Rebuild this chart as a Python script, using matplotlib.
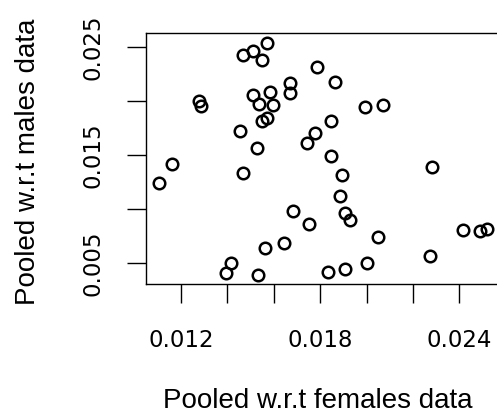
import matplotlib
matplotlib.use("Agg")
import matplotlib.pyplot as plt
import numpy as np

# Pooled estimates: females (x) against males (y)
female_vals = [0.01105, 0.01161, 0.01278, 0.01286, 0.01467, 0.01510, 0.01571, 0.01549,
               0.01510, 0.01584, 0.01536, 0.01597, 0.01549, 0.01571, 0.01454, 0.01528,
               0.01670, 0.01670, 0.01786, 0.01864, 0.01993, 0.02071, 0.01847, 0.01778,
               0.01743, 0.01847, 0.01467, 0.01894, 0.01885, 0.01907, 0.01928, 0.01683,
               0.01752, 0.02049, 0.02002, 0.01907, 0.01834, 0.01532, 0.01394, 0.01416,
               0.01562, 0.01644, 0.02282, 0.02273, 0.02416, 0.02489, 0.02519]
male_vals = [0.01244, 0.01419, 0.02003, 0.01956, 0.02429, 0.02466, 0.02540, 0.02382,
             0.02058, 0.02086, 0.01975, 0.01966, 0.01818, 0.01845, 0.01725, 0.01568,
             0.02169, 0.02077, 0.02318, 0.02179, 0.01947, 0.01966, 0.01818, 0.01706,
             0.01614, 0.01494, 0.01336, 0.01318, 0.01123, 0.00966, 0.00901, 0.00984,
             0.00864, 0.00744, 0.00503, 0.00447, 0.00419, 0.00392, 0.00410, 0.00503,
             0.00642, 0.00688, 0.01392, 0.00568, 0.00808, 0.00799, 0.00818]

x_ticks = [0.012, 0.014, 0.016, 0.018, 0.020, 0.022, 0.024]
x_tick_labels = ["0.012", "", "", "0.018", "", "", "0.024"]
y_ticks = [0.005, 0.010, 0.015, 0.020, 0.025]
y_tick_labels = ["0.005", "", "0.015", "", "0.025"]

W, H = 497, 419
fig = plt.figure(figsize=(W / 100, H / 100), dpi=100)
fig.patch.set_facecolor("white")

left, right, top, bottom = 146, 498, 33, 284
ax = fig.add_axes([left / W, (H - bottom) / H, (right - left) / W, (bottom - top) / H])

ax.plot(female_vals, male_vals, linestyle="none", marker="o", ms=8.3,
        mfc="none", mec="black", mew=1.8)

ax.set_xlim(0.01049, 0.025664)
ax.set_ylim(0.00308, 0.02632)

ax.set_xticks(x_ticks)
ax.set_xticklabels(x_tick_labels)
ax.set_yticks(y_ticks)
ax.set_yticklabels(y_tick_labels, rotation=90, va="center")

tick_font = dict(family="DejaVu Sans", size=16.5)
for lab in ax.get_xticklabels() + ax.get_yticklabels():
    lab.set_fontfamily(tick_font["family"])
    lab.set_fontsize(tick_font["size"])

ax.tick_params(axis="both", direction="out", length=13.7, width=1.0, color="black")
ax.tick_params(axis="x", pad=19)
ax.tick_params(axis="y", pad=16)

for sp in ax.spines.values():
    sp.set_linewidth(1.0)
    sp.set_color("black")

title_font = dict(family=["Liberation Sans", "DejaVu Sans"], size=20)
fig.text(318 / W, (H - 401) / H, "Pooled w.r.t females data", ha="center", va="center",
         **title_font)
fig.text(28 / W, (H - 162) / H, "Pooled w.r.t males data", ha="center", va="center",
         rotation=90, **title_font)

fig.savefig("out.png", dpi=100, facecolor="white")
